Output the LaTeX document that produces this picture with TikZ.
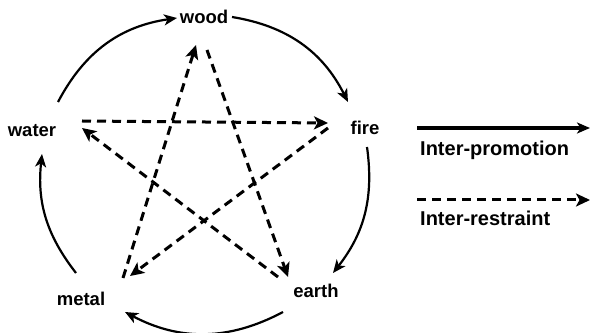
\documentclass[tikz,border=0pt]{standalone}
\usepackage{fontspec}
\setmainfont{Liberation Sans}
\usetikzlibrary{arrows.meta}

\begin{document}
\begin{tikzpicture}[x=1pt, y=1pt,
	elem/.style={inner sep=2pt, font=\fontsize{18.5}{20}\selectfont\bfseries},
	legtext/.style={anchor=west, inner sep=0pt, font=\fontsize{20}{22}\selectfont\bfseries},
	promote/.style={line width=2.2pt, -{Stealth[length=13pt, width=11pt, inset=3.5pt]}},
	restrain/.style={line width=3pt, dash pattern=on 9pt off 6pt, -{Stealth[length=14pt, width=13pt, inset=3.5pt]}}]

	\useasboundingbox (0,0) rectangle (594,332);

	% vertices
	\node[elem] (wood) at (204,315) {wood};
	\node[elem] (fire) at (365,204) {fire};
	\node[elem] (earth) at (316,41) {earth};
	\node[elem] (metal) at (81,33) {metal};
	\node[elem] (water) at (32,201) {water};

	% arrows (promotion, round the circle)
	\draw[promote] ([shift={(26,29)}]water.center) to[bend left=27] ([shift={(-27,-1)}]wood.center);
	\draw[promote] ([shift={(28,0)}]wood.center) to[bend left=27] ([shift={(-17,26)}]fire.center);
	\draw[promote] ([shift={(2,-19)}]fire.center) to[bend left=23] ([shift={(17,18)}]earth.center);
	\draw[promote] ([shift={(-33,-21)}]earth.center) to[bend left=28] ([shift={(44,-13)}]metal.center);
	\draw[promote] ([shift={(-5,26)}]metal.center) to[bend left=22] ([shift={(10,-23)}]water.center);

	% arrows (restraint, the star)
	\draw[restrain] ([shift={(50,10)}]water.center) -- ([shift={(-37,5)}]fire.center);
	\draw[restrain] ([shift={(-37,0)}]fire.center) -- ([shift={(49,23)}]metal.center);
	\draw[restrain] ([shift={(42,21)}]metal.center) -- ([shift={(-8,-28)}]wood.center);
	\draw[restrain] ([shift={(3,-33)}]wood.center) -- ([shift={(-28,14)}]earth.center);
	\draw[restrain] ([shift={(-38,14)}]earth.center) -- ([shift={(50,3)}]water.center);

	% legend
	\coordinate (promA) at (417,204);
	\coordinate (promB) at (590,204);
	\coordinate (restA) at (417,132);
	\coordinate (restB) at (590,132);
	\draw[promote, line width=3.5pt] (promA) -- (promB);
	\draw[restrain] (restA) -- (restB);
	\node[legtext] (promtext) at (420,182) {Inter-promotion};
	\node[legtext] (resttext) at (420,114) {Inter-restraint};
\end{tikzpicture}
\end{document}
